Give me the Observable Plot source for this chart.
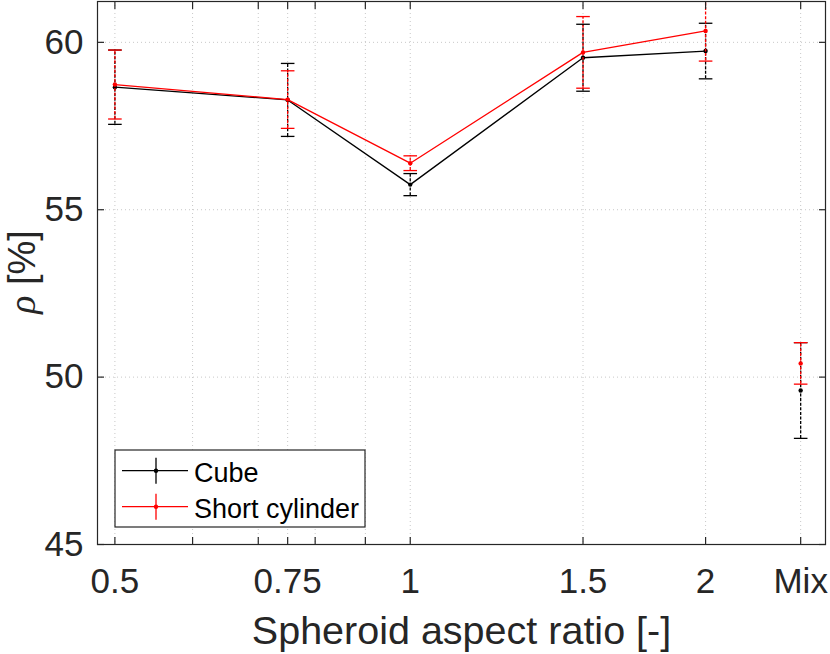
<!DOCTYPE html>
<html><head><meta charset="utf-8">
<script src="https://cdn.jsdelivr.net/npm/d3@7"></script>
<script src="https://cdn.jsdelivr.net/npm/@observablehq/plot@0.6"></script>
<style>html,body{margin:0;padding:0;background:#fff;overflow:hidden}</style>
</head><body><div id="chart"></div>
<script>
// ---- data ----
const categories = ["0.5", "0.75", "1", "1.5", "2", "Mix"];
const xPositions = [0.5, 0.75, 1, 1.5, 2, 2.5];
const minorTicks = [0.6, 0.7, 0.8, 0.9];
const yTicks = [45, 50, 55, 60];
const seriesNames = ["Cube", "Short cylinder"];
const seriesColors = ["#000000", "#ff0000"];
const cubeMean = [58.66, 58.28, 55.75, 59.54, 59.74, 49.60];
const cubeErr  = [1.11, 1.09, 0.33, 1.00, 0.83, 1.43];
const cylMean  = [58.74, 58.29, 56.39, 59.70, 60.34, 50.41];
const cylErr   = [1.03, 0.86, 0.22, 1.07, 0.90, 0.62];
const xLabel = "Spheroid aspect ratio [-]";

const means = [cubeMean, cylMean];
const errs = [cubeErr, cylErr];
const rows = seriesNames.map((s, k) => categories.map((c, i) => ({
  series: s, color: seriesColors[k], cat: c, x: xPositions[i],
  mean: means[k][i], err: errs[k][i]
})));

const allTicks = [...xPositions, ...minorTicks].sort((a, b) => a - b);
const labelOf = new Map(xPositions.map((x, i) => [x, categories[i]]));

const capSymbol = {draw(ctx, size) { const r = Math.sqrt(size / Math.PI); ctx.moveTo(-r, 0); ctx.lineTo(r, 0); }};

const seriesMarks = rows.flatMap((data, k) => {
  const col = seriesColors[k];
  return [
    Plot.line(data.filter(d => d.cat !== "Mix"), {x: "x", y: "mean", stroke: col, strokeWidth: 1.3, clip: "frame"}),
    Plot.ruleX(data, {x: "x", y1: d => d.mean - d.err, y2: d => d.mean + d.err, stroke: col, strokeWidth: 1.3, strokeDasharray: "3,1.6", clip: "frame"}),
    Plot.dot(data, {x: "x", y: d => d.mean + d.err, symbol: capSymbol, r: 6.8, stroke: col, strokeWidth: 1.3, fill: "none", clip: "frame"}),
    Plot.dot(data, {x: "x", y: d => d.mean - d.err, symbol: capSymbol, r: 6.8, stroke: col, strokeWidth: 1.3, fill: "none", clip: "frame"}),
    Plot.dot(data, {x: "x", y: "mean", r: 2.2, fill: col, stroke: "none", clip: "frame"})
  ];
});

const chart = Plot.plot({
  width: 830, height: 654,
  marginLeft: 97, marginRight: 5, marginTop: 1, marginBottom: 110,
  style: {fontFamily: "'Liberation Sans', Arial, Helvetica, sans-serif", fontSize: "35px", color: "#262626", background: "#fff"},
  x: {type: "log", domain: [0.48, 2.65], label: null},
  y: {domain: [45, 61.22], label: null},
  marks: [
    Plot.gridX({ticks: allTicks, stroke: "#c8c8c8", strokeOpacity: 1, strokeWidth: 1, strokeDasharray: "1,3"}),
    Plot.gridY({ticks: yTicks, stroke: "#c8c8c8", strokeOpacity: 1, strokeWidth: 1, strokeDasharray: "1,3"}),
    ...seriesMarks,
    Plot.frame({stroke: "#262626", strokeWidth: 1.2}),
    Plot.axisX({anchor: "bottom", ticks: allTicks, tickSize: -7, tickPadding: 31, tickFormat: d => labelOf.get(d) ?? "", label: null, stroke: "#262626", strokeWidth: 1.2, fontSize: 35}),
    Plot.axisX({anchor: "top", ticks: allTicks, tickSize: -7, tickFormat: () => "", label: null, stroke: "#262626", strokeWidth: 1.2}),
    Plot.axisY({anchor: "left", ticks: yTicks, tickSize: -7, tickPadding: 21, tickFormat: d => String(d), label: null, stroke: "#262626", strokeWidth: 1.2, fontSize: 35}),
    Plot.axisY({anchor: "right", ticks: yTicks, tickSize: -7, tickFormat: () => "", label: null, stroke: "#262626", strokeWidth: 1.2}),
    Plot.text([xLabel], {frameAnchor: "bottom", lineAnchor: "top", dy: 71, text: d => d, fontSize: 39.5, fill: "#262626"})
  ]
});
document.getElementById("chart").appendChild(chart);

// y-axis label with italic rho
const svg = d3.select(chart);
const yl = svg.append("text")
  .attr("transform", "translate(35,272) rotate(-90)")
  .attr("text-anchor", "middle")
  .attr("fill", "#262626")
  .attr("font-size", 38);
yl.append("tspan").attr("font-family", "'Liberation Serif', 'DejaVu Serif', serif").attr("font-style", "italic").text("ρ");
yl.append("tspan").text(" [%]");

// legend box
const lg = svg.append("g").attr("text-anchor", "start");
lg.append("rect").attr("x", 115).attr("y", 450).attr("width", 250).attr("height", 77)
  .attr("fill", "#fff").attr("stroke", "#262626").attr("stroke-width", 1.2);
seriesNames.forEach((name, k) => {
  const cy = 470.7 + k * 36;
  const col = seriesColors[k];
  lg.append("line").attr("x1", 122).attr("x2", 188).attr("y1", cy).attr("y2", cy).attr("stroke", col).attr("stroke-width", 1.3);
  lg.append("line").attr("x1", 156).attr("x2", 156).attr("y1", cy - 13).attr("y2", cy + 13).attr("stroke", col).attr("stroke-width", 1.3);
  lg.append("circle").attr("cx", 156).attr("cy", cy).attr("r", 2.2).attr("fill", col);
  lg.append("text").attr("x", 194).attr("y", cy + 11).attr("text-anchor", "start").attr("font-size", 27).attr("fill", "#000").text(name);
});
</script>
</body></html>
